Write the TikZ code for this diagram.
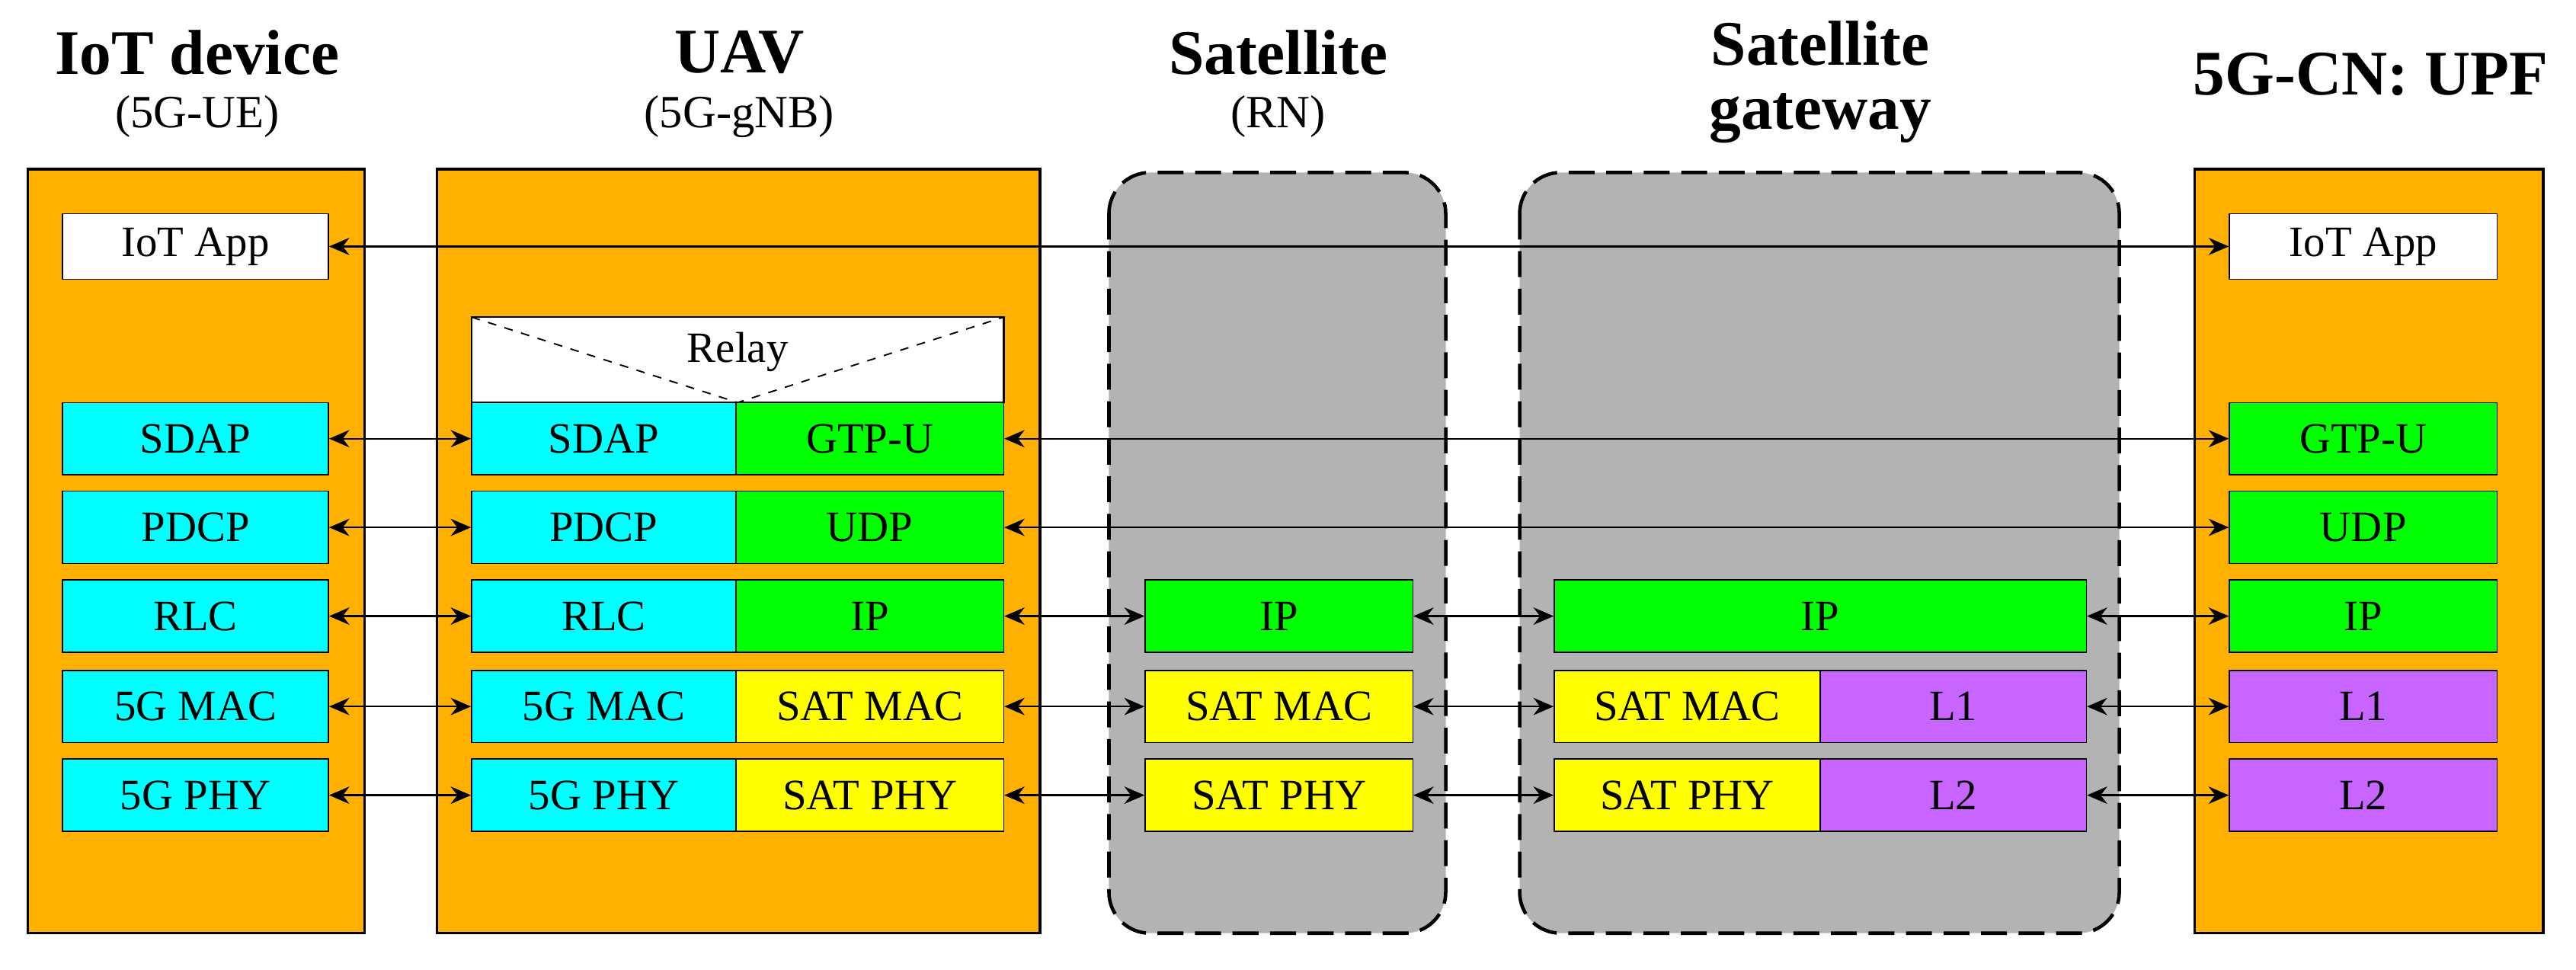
\documentclass[tikz,border=0pt]{standalone}
\usepackage{fontspec}
\setmainfont{Liberation Serif}
\usetikzlibrary{arrows.meta}
\definecolor{devorange}{HTML}{FFB000}
\definecolor{satgray}{HTML}{B3B3B3}
\definecolor{layercyan}{HTML}{00FFFF}
\definecolor{layergreen}{HTML}{00FF00}
\definecolor{layeryellow}{HTML}{FFFF00}
\definecolor{layerpurple}{HTML}{C864FF}

\begin{document}
\begin{tikzpicture}[x=0.02cm, y=-0.02cm,
  lay/.style={draw, inner sep=0pt, minimum height=0.88cm, font=\rmfamily\fontsize{15}{17}\selectfont},
  dev/.style={draw, fill=devorange, line width=0.9pt},
  sat/.style={draw, fill=satgray, dash pattern=on 9pt off 4pt, line width=1.2pt, rounded corners=0.5cm},
  title/.style={font=\rmfamily\fontsize{22}{24}\selectfont\bfseries, align=center},
  sub/.style={font=\rmfamily\fontsize{16}{18}\selectfont},
  link/.style={{Stealth[length=7pt,width=6pt]}-{Stealth[length=7pt,width=6pt]}, line width=0.6pt}]
\useasboundingbox (0,0) rectangle (1568,590);

% titles
\node[title] (tdev) at (120,32) {IoT device};
\node[sub] (sdev) at (120,71) {(5G-UE)};
\node[title] (tuav) at (450,32) {UAV};
\node[sub] (suav) at (450,71) {(5G-gNB)};
\node[title] (tsat) at (778,32) {Satellite};
\node[sub] (ssat) at (778,71) {(RN)};
\node[title] (tgw) at (1108,50) {Satellite\\[-2pt]gateway};
\node[title] (tupf) at (1443,45) {5G-CN: UPF};

% entity boxes
\draw[dev] (17,103) rectangle (222,568);
\draw[dev] (266,103) rectangle (633,568);
\draw[sat] (675,105) rectangle (880,568);
\draw[sat] (925,105) rectangle (1290,568);
\draw[dev] (1336,103) rectangle (1548,568);

% IoT device
\node[lay, fill=white, minimum width=3.24cm, minimum height=0.8cm] (devapp) at (119,150) {IoT App};
\node[lay, fill=layercyan, minimum width=3.24cm] (devsdap) at (119,267) {SDAP};
\node[lay, fill=layercyan, minimum width=3.24cm] (devpdcp) at (119,321) {PDCP};
\node[lay, fill=layercyan, minimum width=3.24cm] (devrlc) at (119,375) {RLC};
\node[lay, fill=layercyan, minimum width=3.24cm] (devmac) at (119,430) {5G MAC};
\node[lay, fill=layercyan, minimum width=3.24cm] (devphy) at (119,484) {5G PHY};

% UAV
\draw[fill=white, line width=0.6pt] (287,193) rectangle (611,245);
\draw[dashed, line width=0.5pt] (287,193) -- (449,245) -- (611,193);
\node[font=\rmfamily\fontsize{15}{17}\selectfont] (relay) at (449,214) {Relay};
\node[lay, fill=layercyan, minimum width=3.22cm] (uavsdap) at (367.5,267) {SDAP};
\node[lay, fill=layercyan, minimum width=3.22cm] (uavpdcp) at (367.5,321) {PDCP};
\node[lay, fill=layercyan, minimum width=3.22cm] (uavrlc) at (367.5,375) {RLC};
\node[lay, fill=layercyan, minimum width=3.22cm] (uavmac) at (367.5,430) {5G MAC};
\node[lay, fill=layercyan, minimum width=3.22cm] (uavphy) at (367.5,484) {5G PHY};
\node[lay, fill=layergreen, minimum width=3.26cm] (uavgtp) at (529.5,267) {GTP-U};
\node[lay, fill=layergreen, minimum width=3.26cm] (uavudp) at (529.5,321) {UDP};
\node[lay, fill=layergreen, minimum width=3.26cm] (uavip) at (529.5,375) {IP};
\node[lay, fill=layeryellow, minimum width=3.26cm] (uavsmac) at (529.5,430) {SAT MAC};
\node[lay, fill=layeryellow, minimum width=3.26cm] (uavsphy) at (529.5,484) {SAT PHY};

% Satellite
\node[lay, fill=layergreen, minimum width=3.26cm] (satip) at (778.5,375) {IP};
\node[lay, fill=layeryellow, minimum width=3.26cm] (satmac) at (778.5,430) {SAT MAC};
\node[lay, fill=layeryellow, minimum width=3.26cm] (satphy) at (778.5,484) {SAT PHY};

% Satellite gateway
\node[lay, fill=layergreen, minimum width=6.48cm] (gwip) at (1108,375) {IP};
\node[lay, fill=layeryellow, minimum width=3.24cm] (gwsmac) at (1027,430) {SAT MAC};
\node[lay, fill=layeryellow, minimum width=3.24cm] (gwsphy) at (1027,484) {SAT PHY};
\node[lay, fill=layerpurple, minimum width=3.24cm] (gwl1) at (1189,430) {L1};
\node[lay, fill=layerpurple, minimum width=3.24cm] (gwl2) at (1189,484) {L2};

% UPF
\node[lay, fill=white, minimum width=3.26cm, minimum height=0.8cm] (upfapp) at (1438.5,150) {IoT App};
\node[lay, fill=layergreen, minimum width=3.26cm] (upfgtp) at (1438.5,267) {GTP-U};
\node[lay, fill=layergreen, minimum width=3.26cm] (upfudp) at (1438.5,321) {UDP};
\node[lay, fill=layergreen, minimum width=3.26cm] (upfip) at (1438.5,375) {IP};
\node[lay, fill=layerpurple, minimum width=3.26cm] (upfl1) at (1438.5,430) {L1};
\node[lay, fill=layerpurple, minimum width=3.26cm] (upfl2) at (1438.5,484) {L2};

% peer links
\draw[link] (devapp) -- (upfapp);
\draw[link] (devsdap) -- (uavsdap);
\draw[link] (devpdcp) -- (uavpdcp);
\draw[link] (devrlc) -- (uavrlc);
\draw[link] (devmac) -- (uavmac);
\draw[link] (devphy) -- (uavphy);
\draw[link] (uavgtp) -- (upfgtp);
\draw[link] (uavudp) -- (upfudp);
\draw[link] (uavip) -- (satip);
\draw[link] (uavsmac) -- (satmac);
\draw[link] (uavsphy) -- (satphy);
\draw[link] (satip) -- (gwip);
\draw[link] (satmac) -- (gwsmac);
\draw[link] (satphy) -- (gwsphy);
\draw[link] (gwip) -- (upfip);
\draw[link] (gwl1) -- (upfl1);
\draw[link] (gwl2) -- (upfl2);
\end{tikzpicture}
\end{document}
